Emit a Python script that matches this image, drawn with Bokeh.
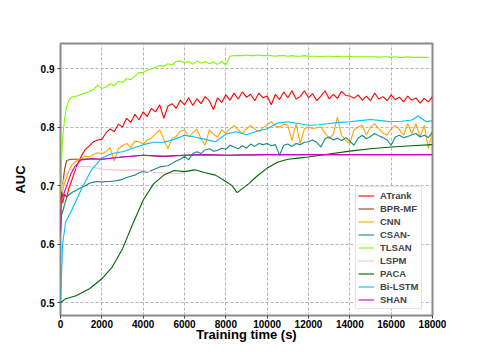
from bokeh.plotting import figure
from bokeh.models import Range1d, Legend, LegendItem, FixedTicker
from bokeh.embed import file_html
from bokeh.resources import INLINE

# ---------------- data ----------------
t_grid = [0, 50, 100, 200, 300, 400, 500, 600, 800] + list(range(1000, 18001, 200))

tlsan = [0.68, 0.74, 0.78, 0.815, 0.835, 0.845, 0.85, 0.852, 0.853,
         0.856, 0.858, 0.861, 0.864, 0.872, 0.866, 0.868, 0.874, 0.871, 0.878,
         0.876, 0.883, 0.881, 0.887, 0.893, 0.893, 0.897, 0.899, 0.902, 0.905,
         0.904, 0.908, 0.906, 0.912, 0.913, 0.910, 0.912, 0.907, 0.913, 0.909,
         0.912, 0.908, 0.911, 0.907, 0.912, 0.906, 0.921, 0.922, 0.922, 0.922,
         0.923, 0.922, 0.922, 0.923, 0.922, 0.922, 0.922, 0.921, 0.922, 0.922,
         0.921, 0.922, 0.921, 0.921, 0.922, 0.921, 0.921, 0.921, 0.920, 0.921,
         0.921, 0.920, 0.921, 0.920, 0.920, 0.921, 0.920, 0.920, 0.920, 0.920,
         0.920, 0.920, 0.919, 0.920, 0.920, 0.919, 0.920, 0.919, 0.919, 0.920,
         0.919, 0.919, 0.919, 0.919, 0.919]

atrank = [0.65, 0.69, 0.67, 0.685, 0.68, 0.695, 0.705, 0.715, 0.735,
          0.750, 0.762, 0.768, 0.775, 0.778, 0.779, 0.790, 0.797, 0.792, 0.805,
          0.800, 0.815, 0.808, 0.822, 0.812, 0.826, 0.818, 0.832, 0.826, 0.838,
          0.815, 0.836, 0.840, 0.832, 0.846, 0.838, 0.850, 0.837, 0.848, 0.840,
          0.852, 0.845, 0.830, 0.850, 0.842, 0.855, 0.846, 0.858, 0.848, 0.860,
          0.851, 0.856, 0.845, 0.858, 0.850, 0.853, 0.838, 0.856, 0.847, 0.860,
          0.850, 0.862, 0.848, 0.852, 0.862, 0.850, 0.857, 0.845, 0.853, 0.862,
          0.848, 0.856, 0.849, 0.861, 0.854, 0.853, 0.849, 0.855, 0.846, 0.853,
          0.845, 0.858, 0.848, 0.852, 0.845, 0.855, 0.847, 0.851, 0.843, 0.853,
          0.846, 0.850, 0.841, 0.849, 0.843, 0.852]

cnn = [0.64, 0.67, 0.69, 0.705, 0.715, 0.725, 0.732, 0.737, 0.743,
       0.747, 0.750, 0.749, 0.753, 0.756, 0.755, 0.758, 0.765, 0.742, 0.763,
       0.768, 0.772, 0.765, 0.776, 0.775, 0.771, 0.778, 0.781, 0.788, 0.795,
       0.779, 0.763, 0.781, 0.784, 0.793, 0.795, 0.783, 0.790, 0.797, 0.780,
       0.769, 0.795, 0.788, 0.783, 0.795, 0.790, 0.797, 0.803, 0.795, 0.789,
       0.797, 0.803, 0.797, 0.792, 0.799, 0.804, 0.809, 0.802, 0.800, 0.805,
       0.803, 0.777, 0.806, 0.772, 0.797, 0.800, 0.797, 0.799, 0.800, 0.790,
       0.780, 0.788, 0.817, 0.786, 0.777, 0.772, 0.795, 0.800, 0.803, 0.786,
       0.800, 0.806, 0.797, 0.790, 0.786, 0.797, 0.803, 0.796, 0.786, 0.806,
       0.789, 0.806, 0.783, 0.803, 0.763, 0.795]

csan = [0.62, 0.65, 0.655, 0.668, 0.680, 0.684, 0.687, 0.689, 0.693,
        0.697, 0.700, 0.704, 0.706, 0.707, 0.706, 0.707, 0.707, 0.708, 0.709,
        0.711, 0.714, 0.716, 0.718, 0.722, 0.724, 0.723, 0.726, 0.729, 0.732,
        0.733, 0.734, 0.738, 0.742, 0.745, 0.750, 0.744, 0.755, 0.758, 0.755,
        0.761, 0.763, 0.759, 0.760, 0.764, 0.762, 0.769, 0.766, 0.763, 0.768,
        0.764, 0.771, 0.767, 0.772, 0.770, 0.772, 0.768, 0.770, 0.752, 0.769,
        0.771, 0.767, 0.772, 0.770, 0.774, 0.775, 0.778, 0.774, 0.766, 0.780,
        0.783, 0.778, 0.781, 0.777, 0.782, 0.776, 0.769, 0.781, 0.786, 0.780,
        0.784, 0.789, 0.785, 0.782, 0.778, 0.769, 0.783, 0.786, 0.782, 0.784,
        0.787, 0.789, 0.783, 0.786, 0.782, 0.792]

t_bilstm = [0, 100, 250, 500, 1000, 1500, 2000, 2500, 3000, 3500, 4000, 4500,
            5000, 5500, 6000, 6500, 7000, 7500, 8000, 8500, 9000, 9500, 10000,
            10500, 11000, 11500, 12000, 12500, 13000, 13500, 14000, 14500,
            15000, 15500, 16000, 16500, 17000, 17300, 17700, 18000]
bilstm = [0.50, 0.60, 0.638, 0.655, 0.693, 0.727, 0.747, 0.755, 0.758, 0.764,
          0.770, 0.774, 0.774, 0.779, 0.786, 0.783, 0.779, 0.775, 0.788, 0.792,
          0.787, 0.793, 0.797, 0.807, 0.809, 0.806, 0.803, 0.804, 0.806, 0.808,
          0.809, 0.811, 0.813, 0.811, 0.809, 0.810, 0.812, 0.819, 0.809, 0.811]

t_paca = [0, 250, 750, 1400, 2000, 2500, 3000, 3500, 4000, 4500, 5000, 5500,
          6000, 6500, 7000, 7500, 8000, 8300, 8550, 8800, 9100, 9500, 10000,
          10500, 11000, 11500, 12000, 13000, 14000, 15000, 16000, 17000, 18000]
paca = [0.500, 0.507, 0.512, 0.524, 0.541, 0.561, 0.592, 0.635, 0.675, 0.703,
        0.718, 0.726, 0.724, 0.727, 0.722, 0.718, 0.707, 0.700, 0.688, 0.695,
        0.703, 0.716, 0.730, 0.740, 0.745, 0.747, 0.749, 0.754, 0.759, 0.763,
        0.766, 0.768, 0.770]

t_shan = [0, 50, 100, 200, 300, 500, 700, 1000, 1500, 2000, 3000, 4000, 5000,
          6000, 7000, 8000, 10000, 12000, 14000, 16000, 18000]
shan = [0.62, 0.69, 0.68, 0.69, 0.70, 0.72, 0.733, 0.744, 0.746, 0.745, 0.749,
        0.752, 0.750, 0.752, 0.753, 0.752, 0.753, 0.753, 0.753, 0.753, 0.753]

t_bpr = [0, 100, 200, 300, 500, 800, 1000, 1500, 2000, 3000, 4000, 5000, 6000,
         7000, 8000, 10000, 12000, 14000, 16000, 18000]
bpr = [0.66, 0.70, 0.728, 0.743, 0.745, 0.745, 0.745, 0.746, 0.745, 0.749,
       0.752, 0.750, 0.752, 0.753, 0.752, 0.753, 0.753, 0.753, 0.753, 0.753]

t_lspm = [0, 100, 200, 400, 600, 800, 1000, 1500, 2000, 2500, 3000, 3500, 4000,
          4500, 5000, 5500, 6000]
lspm = [0.66, 0.70, 0.715, 0.725, 0.728, 0.731, 0.733, 0.732, 0.728, 0.727,
        0.726, 0.727, 0.726, 0.723, 0.722, 0.720, 0.722]

x_ticks = [0, 2000, 4000, 6000, 8000, 10000, 12000, 14000, 16000, 18000]
y_ticks = [0.5, 0.6, 0.7, 0.8, 0.9]

# ---------------- figure ----------------
FONT = "Liberation Sans"
p = figure(width=464, height=344, output_backend="svg", toolbar_location=None,
           x_range=Range1d(0, 18000), y_range=Range1d(0.4783, 0.9427),
           min_border_left=60, min_border_right=32, min_border_top=43,
           min_border_bottom=29)
p.background_fill_color = "white"
p.border_fill_color = "white"
p.outline_line_color = "#8a8a8a"
p.outline_line_width = 2

p.xaxis.ticker = FixedTicker(ticks=x_ticks)
p.yaxis.ticker = FixedTicker(ticks=y_ticks)
for ax in (p.xaxis, p.yaxis):
    ax.axis_line_color = None
    ax.major_tick_line_color = "#444444"
    ax.major_tick_in = 0
    ax.major_tick_out = 3
    ax.minor_tick_line_color = None
    ax.major_label_text_font = FONT
    ax.major_label_text_font_style = "bold"
    ax.major_label_text_font_size = "10px"
    ax.major_label_text_color = "black"
    ax.axis_label_text_font = FONT
    ax.axis_label_text_font_style = "bold"
    ax.axis_label_text_font_size = "13px"
    ax.axis_label_text_color = "black"
p.xaxis.major_label_standoff = 1
p.yaxis.major_label_standoff = 3
p.xaxis.axis_label = "Training time (s)"
p.yaxis.axis_label = "AUC"
p.xaxis.axis_label_standoff = -4
p.yaxis.axis_label_standoff = 10

p.grid.grid_line_color = "#b4b4b4"
p.grid.grid_line_dash = "3 2"
p.grid.grid_line_width = 1

series = [
    ("ATrank", t_grid, atrank, "#ff0000"),
    ("BPR-MF", t_bpr, bpr, "#8b4513"),
    ("CNN", t_grid, cnn, "#ffa500"),
    ("CSAN-", t_grid, csan, "#108a8a"),
    ("TLSAN", t_grid, tlsan, "#7cfc00"),
    ("LSPM", t_lspm, lspm, "#ffc0cb"),
    ("PACA", t_paca, paca, "#006400"),
    ("Bi-LSTM", t_bilstm, bilstm, "#00bfff"),
    ("SHAN", t_shan, shan, "#cc00cc"),
]
items = []
for name, xs, ys, col in series:
    r = p.line(xs, ys, line_color=col, line_width=1.1)
    items.append(LegendItem(label=name, renderers=[r]))

legend = Legend(items=items, location=(295, 6))
legend.label_text_font = FONT
legend.label_text_font_style = "bold"
legend.label_text_font_size = "9.5px"
legend.glyph_width = 16
legend.glyph_height = 13
legend.label_height = 13
legend.spacing = 0
legend.padding = 2
legend.margin = 0
legend.label_standoff = 6
legend.border_line_color = "#cccccc"
legend.border_line_width = 1
legend.background_fill_alpha = 0.85
p.add_layout(legend)

open("out.html", "w").write(file_html(p, INLINE))
